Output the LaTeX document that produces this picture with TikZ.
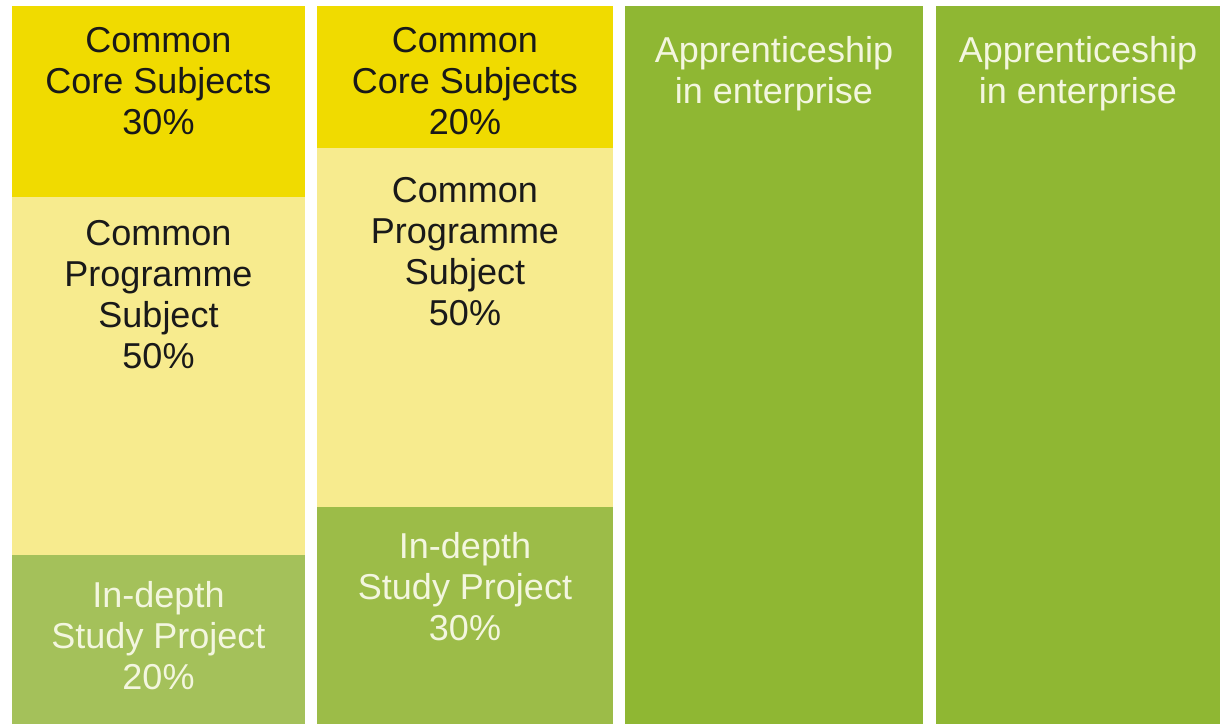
\documentclass[tikz,border=0pt]{standalone}
\usepackage{fontspec}
\setmainfont{Liberation Sans}
\usepackage{xcolor}
\usepackage{tikz}

\definecolor{coreyellow}{HTML}{F0DB00}
\definecolor{progyellow}{HTML}{F7EB8E}
\definecolor{studygreenA}{HTML}{A4C15A}
\definecolor{studygreenB}{HTML}{9CBC48}
\definecolor{apprgreen}{HTML}{8FB733}
\definecolor{paletext}{HTML}{F3F6DF}

\tikzset{
  lbl/.style={align=center, inner sep=0pt, font=\fontsize{36}{41}\selectfont},
  darklbl/.style={lbl, text=black!90},
  palelbl/.style={lbl, text=paletext}
}

\begin{document}
\begin{tikzpicture}[x=1pt,y=-1pt]
                \useasboundingbox (0,0) rectangle (1220,724);
                \fill[white] (0,0) rectangle (1220,724);
                % first column
                \fill[coreyellow] (12,6) rectangle (305,197);
                \fill[progyellow] (12,197) rectangle (305,555);
                \fill[studygreenA] (12,555) rectangle (305,724);
                % second column
                \fill[coreyellow] (317,6) rectangle (613,148);
                \fill[progyellow] (317,148) rectangle (613,507);
                \fill[studygreenB] (317,507) rectangle (613,724);
                % apprenticeship columns
                \fill[apprgreen] (625,6) rectangle (923,724);
                \fill[apprgreen] (936,6) rectangle (1220,724);

                \node[darklbl] (coreA) at (158.5,81.5) {Common\\Core Subjects\\30\%};
                \node[darklbl] (progA) at (158.5,295) {Common\\Programme\\Subject\\50\%};
                \node[palelbl] (studyA) at (158.5,636) {In-depth\\Study Project\\20\%};

                \node[darklbl] (coreB) at (465,81.5) {Common\\Core Subjects\\20\%};
                \node[darklbl] (progB) at (465,252) {Common\\Programme\\Subject\\50\%};
                \node[palelbl] (studyB) at (465,586.5) {In-depth\\Study Project\\30\%};

                \node[palelbl] (apprA) at (774,74) {Apprenticeship\\in enterprise};
                \node[palelbl] (apprB) at (1078,74) {Apprenticeship\\in enterprise};
            \end{tikzpicture}
\end{document}
